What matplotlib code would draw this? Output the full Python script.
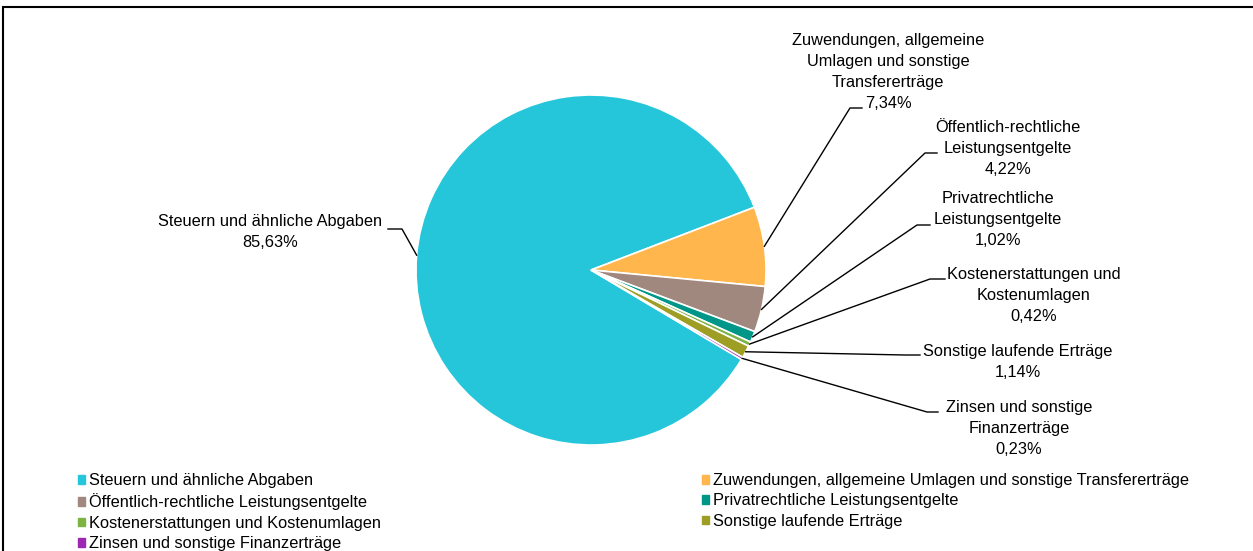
import numpy as np
import matplotlib.pyplot as plt
from matplotlib.patches import Rectangle

# Daten
categories = [
    "Steuern und ähnliche Abgaben",
    "Zuwendungen, allgemeine Umlagen und sonstige Transfererträge",
    "Öffentlich-rechtliche Leistungsentgelte",
    "Privatrechtliche Leistungsentgelte",
    "Kostenerstattungen und Kostenumlagen",
    "Sonstige laufende Erträge",
    "Zinsen und sonstige Finanzerträge",
]
shares = [85.63, 7.34, 4.22, 1.02, 0.42, 1.14, 0.23]
chart_labels = [
    "Steuern und ähnliche Abgaben",
    "Zuwendungen, allgemeine\nUmlagen und sonstige\nTransfererträge",
    "Öffentlich-rechtliche\nLeistungsentgelte",
    "Privatrechtliche\nLeistungsentgelte",
    "Kostenerstattungen und\nKostenumlagen",
    "Sonstige laufende Erträge",
    "Zinsen und sonstige\nFinanzerträge",
]
colors = ["#26C6DA", "#FFB74D", "#A1887F", "#009688", "#7CB342", "#9E9D24", "#9C27B0"]

plt.rcParams['font.family'] = ['Liberation Sans Narrow', 'Liberation Sans', 'DejaVu Sans']
FS = 11.8

W, H = 1253, 551
CX, CY, R = 591, 270, 175


def px(x, y):
    # Pixelposition -> Datenkoordinaten (Kreis hat Radius 1)
    return (x - CX) / R, (CY - y) / R


fig = plt.figure(figsize=(W / 100, H / 100), dpi=100)
ax = fig.add_axes([0, 0, 1, 1])
ax.axis("off")

# Rahmen (rechts und unten abgeschnitten)
fig.patches.append(Rectangle((3 / W, -0.1), 1.2, 1.1 - 7 / H, transform=fig.transFigure,
                             fill=False, edgecolor="black", linewidth=1.5))

# Orange Segment beginnt bei ca. 21 Grad, im Uhrzeigersinn
start = 21 + 360 * shares[0] / 100
wedges, _ = ax.pie(shares, colors=colors, startangle=start, counterclock=False,
                   radius=1, center=(0, 0),
                   wedgeprops=dict(edgecolor="white", linewidth=1.2))
ax.set_aspect("equal")
ax.set_xlim(-CX / R, (W - CX) / R)
ax.set_ylim(-(H - CY) / R, CY / R)

# Beschriftungen: Textmitte, Knickpunkt, Ende der waagrechten Linie (Pixel)
text_pos = [(270, 232), (888, 72), (1008, 149), (998, 220), (1034, 296), (1018, 362), (1019, 429)]
elbows = [((402, 229), (388, 229)), ((850, 108), (862, 108)), ((925, 153), (937, 153)),
          ((917, 225), (930, 225)), ((930, 279), (945, 279)), ((905, 355), (920, 355)),
          ((927, 412), (938, 412))]

for w, lab, v, tp, (e1, e2) in zip(wedges, chart_labels, shares, text_pos, elbows):
    mid = np.deg2rad((w.theta1 + w.theta2) / 2)
    x0, y0 = np.cos(mid), np.sin(mid)
    x1, y1 = px(*e1)
    x2, y2 = px(*e2)
    ax.plot([x0, x1, x2], [y0, y1, y2], color="black", linewidth=1.0)
    txt = lab + "\n" + f"{v:.2f}".replace(".", ",") + "%"
    tx, ty = px(*tp)
    ax.text(tx, ty, txt, ha="center", va="center", multialignment="center",
            fontsize=FS, linespacing=1.5, color="black")

# Legende in zwei Spalten
handles = [plt.Rectangle((0, 0), 1, 1, color=c) for c in colors]
leg_kw = dict(loc="upper left", frameon=False, fontsize=FS, handlelength=0.45,
              handleheight=0.45, handletextpad=0.25, labelspacing=0.33,
              borderpad=0, borderaxespad=0)
fig.legend([handles[i] for i in [0, 2, 4, 6]], [categories[i] for i in [0, 2, 4, 6]],
           bbox_to_anchor=(78 / W, 1 - 473 / H), **leg_kw)
fig.legend([handles[i] for i in [1, 3, 5]], [categories[i] for i in [1, 3, 5]],
           bbox_to_anchor=(702 / W, 1 - 473 / H), **leg_kw)

fig.savefig("out.png", dpi=100)
